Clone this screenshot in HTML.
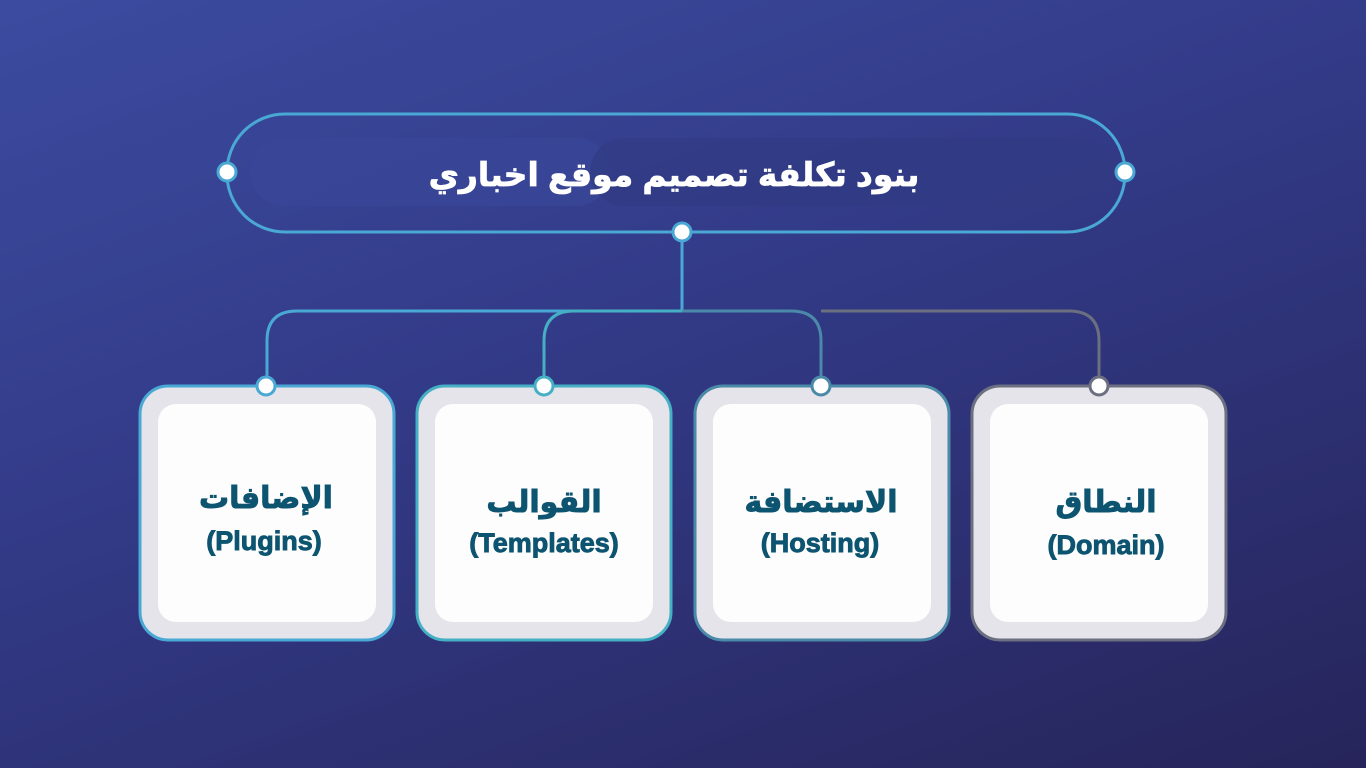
<!DOCTYPE html>
<html><head><meta charset="utf-8"><style>
html,body{margin:0;padding:0;width:1366px;height:768px;overflow:hidden}
body{background:linear-gradient(160deg,#3c4ba0 0%,#323a86 45%,#26245a 100%)}
svg{position:absolute;left:0;top:0}
text{font-family:"Liberation Sans","DejaVu Sans",sans-serif;font-weight:bold}
</style></head><body>
<svg width="1366" height="768" viewBox="0 0 1366 768">
<rect x="250" y="138" width="360" height="68" rx="34" fill="#3a4799" opacity="0.6"/>
<rect x="590" y="138" width="525" height="68" rx="34" fill="#303a82" opacity="0.6"/>
<rect x="227" y="114" width="898" height="118" rx="58" fill="none" stroke="#4aa8d4" stroke-width="3"/>
<text x="674" y="186" text-anchor="middle" fill="#fff" font-size="33" stroke="#fff" stroke-width="0.8" direction="rtl">بنود تكلفة تصميم موقع اخباري</text>
<path d="M682 232 V311" stroke="#4aa8d4" stroke-width="3" fill="none"/>
<path d="M682 311 H297 Q267 311 267 341 V385" stroke="#4aa8d4" stroke-width="3" fill="none"/>
<path d="M682 311 H574 Q544 311 544 341 V385" stroke="#45b0c4" stroke-width="3" fill="none"/>
<path d="M682 311 H791 Q821 311 821 341 V385" stroke="#4a8aa8" stroke-width="3" fill="none"/>
<path d="M821 311 H1069 Q1099 311 1099 341 V385" stroke="#6b6f80" stroke-width="3" fill="none"/>
<g stroke-width="3" fill="#fff">
<circle cx="227" cy="172" r="9" stroke="#4aa8d4"/>
<circle cx="1125" cy="172" r="9" stroke="#4aa8d4"/>
<circle cx="682" cy="232" r="9" stroke="#4aa8d4"/>
</g>
<g fill="#0d5470" stroke="#0d5470" stroke-width="0.9" text-anchor="middle">
<g>
<rect x="140" y="386" width="254" height="254" rx="28" fill="#e4e4ea" stroke="#4aa8d4" stroke-width="3"/>
<rect x="158" y="404" width="218" height="218" rx="18" fill="#fdfdfd" stroke="none"/>
<circle cx="266" cy="386" r="9" fill="#fff" stroke="#4aa8d4" stroke-width="3"/>
<text x="266" y="508" font-size="30">الإضافات</text><text x="264" y="550" font-size="27">(Plugins)</text>
</g>
<g>
<rect x="417" y="386" width="254" height="254" rx="28" fill="#e4e4ea" stroke="#45b0c4" stroke-width="3"/>
<rect x="435" y="404" width="218" height="218" rx="18" fill="#fdfdfd" stroke="none"/>
<circle cx="544" cy="386" r="9" fill="#fff" stroke="#45b0c4" stroke-width="3"/>
<text x="544" y="512" font-size="30">القوالب</text><text x="544" y="552" font-size="27">(Templates)</text>
</g>
<g>
<rect x="695" y="386" width="254" height="254" rx="28" fill="#e4e4ea" stroke="#4a8aa8" stroke-width="3"/>
<rect x="713" y="404" width="218" height="218" rx="18" fill="#fdfdfd" stroke="none"/>
<circle cx="821" cy="386" r="9" fill="#fff" stroke="#4a8aa8" stroke-width="3"/>
<text x="821" y="512" font-size="30">الاستضافة</text><text x="820" y="552" font-size="27">(Hosting)</text>
</g>
<g>
<rect x="972" y="386" width="254" height="254" rx="28" fill="#e4e4ea" stroke="#6b6f80" stroke-width="3"/>
<rect x="990" y="404" width="218" height="218" rx="18" fill="#fdfdfd" stroke="none"/>
<circle cx="1099" cy="386" r="9" fill="#fff" stroke="#6b6f80" stroke-width="3"/>
<text x="1106" y="512" font-size="30">النطاق</text><text x="1106" y="554" font-size="27">(Domain)</text>
</g>
</g>
</svg>
</body></html>
